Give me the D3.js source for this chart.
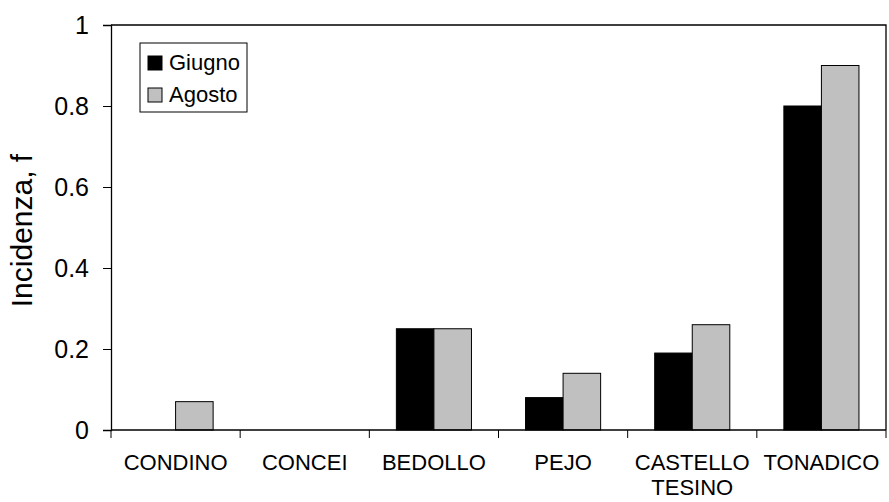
<!DOCTYPE html>
<head>
  <meta charset="utf-8">
  <script src="https://d3js.org/d3.v7.min.js"></script>
  <style>
    body { margin:0; background:#fff; }
    text { font-family: Arial, "Liberation Sans", sans-serif; fill:#000; }
  </style>
</head>
<body>
<script>
var categories = ["CONDINO", "CONCEI", "BEDOLLO", "PEJO", "CASTELLO TESINO", "TONADICO"]
var giugno = [0, 0, 0.25, 0.08, 0.19, 0.8]
var agosto = [0.07, 0, 0.25, 0.14, 0.26, 0.9]
var seriesNames = ["Giugno", "Agosto"]
var seriesColors = ["#000000", "#c0c0c0"]
var yTicks = [0, 0.2, 0.4, 0.6, 0.8, 1]

var W = 889, H = 502
var margin = {top: 25, right: 3, bottom: 72, left: 111}

var svg = d3.select("body").append("svg")
  .attr("width", W)
  .attr("height", H)

var x0 = d3.scaleBand().domain(categories)
  .range([margin.left, W - margin.right]).paddingInner(0).paddingOuter(0)
var x1 = d3.scaleBand().domain(seriesNames)
  .range([0, x0.bandwidth()]).paddingOuter(0.72)
var y = d3.scaleLinear().domain([0, 1]).range([H - margin.bottom, margin.top])

var data = categories.map(function(c, i){ return {cat: c, vals: [giugno[i], agosto[i]]} })

// cornice del grafico (sopra e a destra)
svg.append("path")
  .attr("d", "M" + margin.left + "," + y(1) + "H" + (W - margin.right) + "V" + y(0))
  .attr("fill", "none").attr("stroke", "#000").attr("stroke-width", 1.3)

// barre
var g = svg.selectAll(".grp").data(data).enter().append("g")
  .attr("transform", function(d){ return "translate(" + x0(d.cat) + ",0)" })
g.selectAll("rect")
  .data(function(d){ return d.vals.map(function(v, j){ return {v: v, s: seriesNames[j], j: j} }) })
  .enter().append("rect")
  .filter(function(d){ return d.v > 0 })
  .attr("x", function(d){ return x1(d.s) })
  .attr("width", x1.bandwidth())
  .attr("y", function(d){ return y(d.v) })
  .attr("height", function(d){ return y(0) - y(d.v) })
  .attr("fill", function(d){ return seriesColors[d.j] })
  .attr("stroke", "#000").attr("stroke-width", 1)

// asse y
var yAxis = svg.append("g")
  .attr("transform", "translate(" + margin.left + ",0)")
  .call(d3.axisLeft(y).tickValues(yTicks).tickSize(8).tickPadding(14)
    .tickFormat(function(d){ return d3.format("")(d) }))
yAxis.select(".domain").attr("stroke-width", 1.3)
yAxis.selectAll(".tick line").attr("stroke-width", 1)
yAxis.selectAll("text").style("font-size", "25px")
  .attr("font-family", null)

// asse x
var xAxis = svg.append("g")
  .attr("transform", "translate(0," + y(0) + ")")
  .call(d3.axisBottom(x0).tickSize(0).tickFormat(""))
xAxis.select(".domain").attr("stroke-width", 1.3).attr("d", "M" + margin.left + ",0H" + (W - margin.right))
var bounds = categories.map(function(c){ return x0(c) }).concat([W - margin.right])
xAxis.selectAll(".bound").data(bounds).enter().append("line")
  .attr("x1", function(d){ return d }).attr("x2", function(d){ return d })
  .attr("y1", 0).attr("y2", 8).attr("stroke", "#000")

var labels = xAxis.selectAll(".lab").data(categories).enter().append("text")
  .attr("text-anchor", "middle")
  .attr("x", function(d){ return x0(d) + x0.bandwidth() / 2 })
  .attr("y", 40)
  .style("font-size", "22px")
labels.each(function(d){
  var words = d.split(" ")
  var t = d3.select(this)
  words.forEach(function(w, i){
    t.append("tspan").attr("x", t.attr("x")).attr("dy", i === 0 ? 0 : 25).text(w)
  })
})

// titolo y
svg.append("text")
  .attr("transform", "translate(32," + ((y(0) + y(1)) / 2 + 3) + ") rotate(-90)")
  .attr("text-anchor", "middle")
  .style("font-size", "30px")
  .text("Incidenza, f")

// legenda
var leg = svg.append("g").attr("transform", "translate(140,43)")
leg.append("rect").attr("width", 107).attr("height", 69)
  .attr("fill", "#fff").attr("stroke", "#000").attr("stroke-width", 1)
seriesNames.forEach(function(s, i){
  leg.append("rect").attr("x", 8).attr("y", 13 + i * 32).attr("width", 14).attr("height", 14)
    .attr("fill", seriesColors[i]).attr("stroke", "#000")
  leg.append("text").attr("x", 29).attr("y", 27 + i * 32)
    .style("font-size", "22px").text(s)
})
</script>
</body>
